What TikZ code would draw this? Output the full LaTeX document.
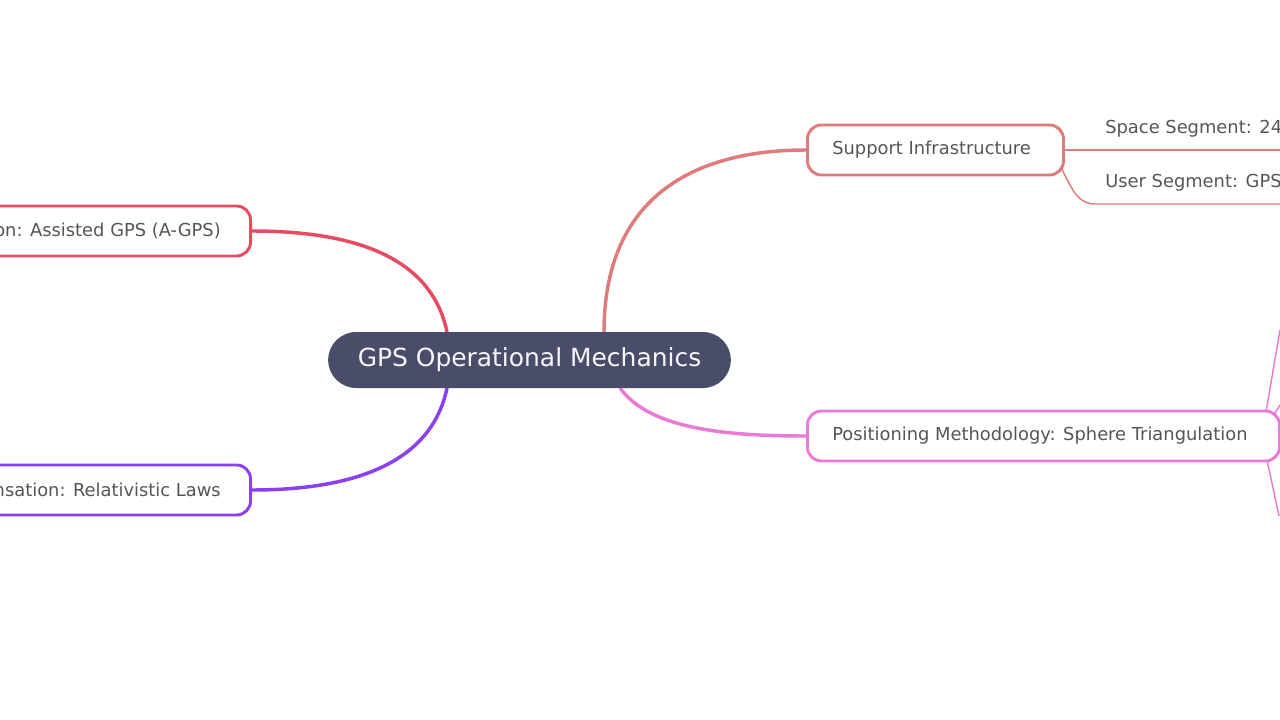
\documentclass[tikz,border=0pt]{standalone}
\usepackage{fontspec}
\setmainfont{DejaVu Sans}
\begin{document}
\begin{tikzpicture}[x=0.75pt,y=-0.75pt,
  box/.style={draw,line width=2.2pt,rounded corners=10.5pt,fill=white,minimum height=37.5pt,inner xsep=0pt,text=txt,font=\fontsize{13.4pt}{15pt}\selectfont},
  br/.style={line width=2.6pt},
  sub/.style={line width=1.1pt},
  tx/.style={text=txt,font=\fontsize{13.4pt}{15pt}\selectfont,inner sep=0pt},
  lab/.style={tx,anchor=base west}]
\definecolor{txt}{HTML}{555555}
\definecolor{cen}{HTML}{4A4D6A}
\definecolor{csup}{HTML}{E07B7B}
\definecolor{cpos}{HTML}{EA7AD8}
\definecolor{cagp}{HTML}{E84A5F}
\definecolor{crel}{HTML}{8A3FF0}
\useasboundingbox (0,0) rectangle (1280,720);
\clip (0,0) rectangle (1280,720);
% branches
\draw[br,csup] (604,332) .. controls (604,200) and (690,150) .. (806,150);
\draw[br,cpos] (620,388) .. controls (650,430) and (730,436) .. (806,436);
\draw[br,cagp] (447,332) .. controls (430,250) and (340,231) .. (252,231);
\draw[br,crel] (447,388) .. controls (430,470) and (340,490) .. (252,490);
% sub branches
\draw[sub,csup] (1062,150) -- (1280,150);
\draw[sub,csup] (1060,165) .. controls (1072,190) and (1078,204) .. (1095,204) -- (1280,204);
\node[lab] (s1) at (1105,134) {Space Segment: 24 S};
\node[lab] (s2) at (1105,188) {User Segment: GPS-e};
\draw[sub,cpos] (1266,412) -- (1280,330);
\draw[sub,cpos] (1273,416) -- (1280,405);
\draw[sub,cpos] (1267,460) -- (1279,516);
% nodes
\node[box,draw=csup,minimum width=192pt,anchor=west] (si) at (806,150) {};
\node[tx,anchor=west] (sit) at (832,150) {Support Infrastructure};
\node[box,draw=cpos,minimum width=354pt,anchor=west] (pm) at (806,436) {};
\node[tx,anchor=west] (pmt) at (832,436) {Positioning Methodology: Sphere Triangulation};
\node[box,draw=cagp,minimum width=220pt,anchor=east] (ag) at (252,231) {};
\node[tx,anchor=east] (agt) at (221,231) {on: Assisted GPS (A-GPS)};
\node[box,draw=crel,minimum width=220pt,anchor=east] (rl) at (252,490) {};
\node[tx,anchor=east] (rlt) at (221,490) {nsation: Relativistic Laws};
\node[fill=cen,rounded corners=21pt,minimum width=302pt,minimum height=42pt,text=white!95!cen,font=\fontsize{18.7pt}{20pt}\selectfont] (c) at (529.5,360) {GPS Operational Mechanics};
\end{tikzpicture}
\end{document}
